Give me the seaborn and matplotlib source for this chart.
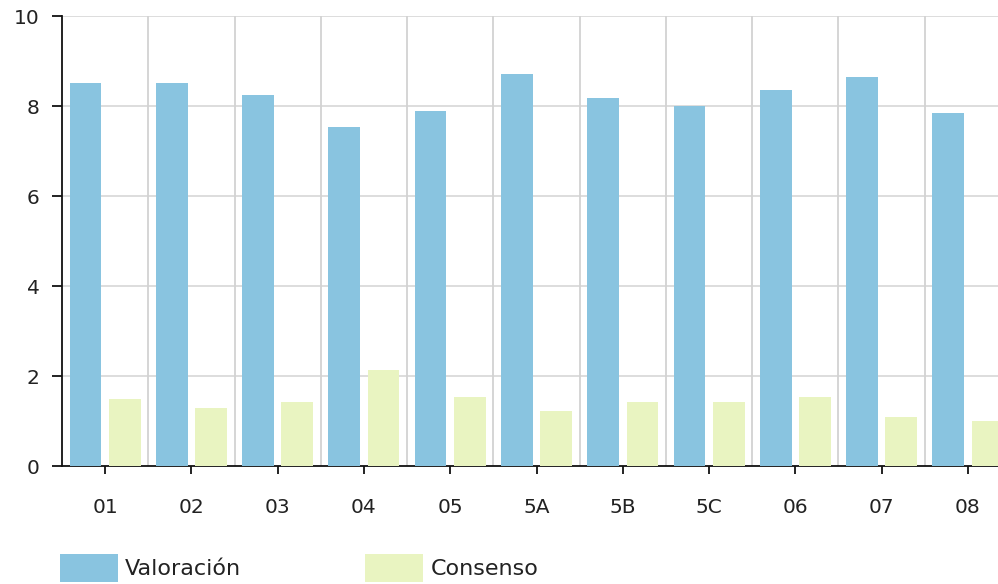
import matplotlib
matplotlib.use('Agg')
import matplotlib.pyplot as plt
import seaborn as sns
import pandas as pd

sns.set_style("ticks")
plt.rcParams['font.family'] = ['DejaVu Sans']

# values
categories = ['01', '02', '03', '04', '05', '5A', '5B', '5C', '06', '07', '08']
valoracion = [8.52, 8.52, 8.24, 7.53, 7.89, 8.72, 8.17, 8.00, 8.36, 8.64, 7.85]
consenso = [1.50, 1.30, 1.42, 2.13, 1.53, 1.22, 1.42, 1.42, 1.53, 1.10, 0.99]
series = ['Valoración', 'Consenso']
colors = ['#89c4e0', '#e9f4c1']

df = pd.DataFrame({'categoria': categories, series[0]: valoracion, series[1]: consenso})
df = pd.melt(df, 'categoria', series, 'serie')  # long format for hue

W, H = 998, 584
fig = plt.figure(figsize=(W / 100, H / 100), dpi=100)
# axes runs a bit past the right edge, like the reference (last bar is cut)
ax = fig.add_axes([62 / W, (H - 466) / H, 949 / W, 450 / H])

sns.barplot(data=df, x='categoria', y='value', hue='serie', hue_order=series,
            order=categories, palette=colors, width=0.91, gap=0.19,
            linewidth=0, saturation=1, ax=ax, zorder=3)

ax.set_xlim(-0.5, len(categories) - 0.5)
ax.set_ylim(0, 10)
ax.set_yticks([0, 2, 4, 6, 8, 10])
ax.set_xlabel('')
ax.set_ylabel('')

# grid: horizontal at y ticks, vertical at category boundaries
for y in [2, 4, 6, 8, 10]:
    ax.axhline(y, color='#dadada', lw=1.3, zorder=1)
for i in range(1, len(categories)):
    ax.axvline(i - 0.5, color='#d2d2d2', lw=1.3, zorder=1)

sns.despine(ax=ax, top=True, right=True)
for s in ['left', 'bottom']:
    ax.spines[s].set_color('#111111')
    ax.spines[s].set_linewidth(1.3)
ax.tick_params(axis='both', width=1.3, color='#111111',
               labelsize=14.5, labelcolor='#222222')
ax.tick_params(axis='y', length=7, pad=9)
ax.tick_params(axis='x', length=6, pad=17)

sns.move_legend(ax, 'upper left', bbox_to_anchor=(60 / W, (H - 554) / H),
                bbox_transform=fig.transFigure, ncol=2, frameon=False,
                title=None, fontsize=16, handlelength=2.6, handleheight=1.55,
                handletextpad=0.32, columnspacing=5.6, borderaxespad=0,
                borderpad=0)
for t in ax.get_legend().get_texts():
    t.set_color('#222222')

fig.savefig('out.png', dpi=100)
